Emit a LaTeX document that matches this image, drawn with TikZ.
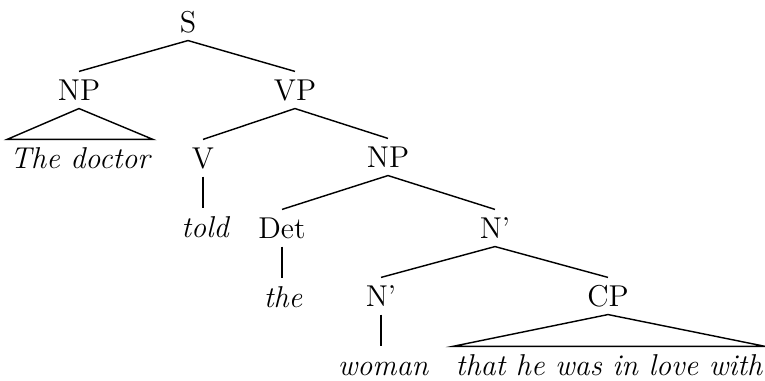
\documentclass[tikz,border=0pt]{standalone}
\begin{document}
\begin{tikzpicture}[x=0.385pt,y=-0.385pt,
  every node/.style={font=\fontsize{11.6}{14}\selectfont},
  lab/.style={inner xsep=1pt,inner ysep=3pt,text height=7.9pt,text depth=0pt},
  leaf/.style={lab,font=\fontsize{11.6}{14}\selectfont\itshape},
  br/.style={line width=0.55pt}]
\useasboundingbox (0,0) rectangle (765,381);
\node[lab] (S) at (188,22) {S};
\node[lab] (NPa) at (79,90) {NP};
\node[lab] (VP) at (295,90) {VP};
\node[leaf] (doc) at (80,158) {The doctor};
\node[lab] (V) at (203,158) {V};
\node[lab] (NPb) at (388,157) {NP};
\node[leaf] (told) at (205,227) {told};
\node[lab] (Det) at (282,228) {Det};
\node[lab] (Na) at (495,228) {N'};
\node[leaf] (the) at (283,297) {the};
\node[lab] (Nb) at (381,296) {N'};
\node[lab] (CP) at (608,296) {CP};
\node[leaf] (woman) at (383,365) {woman};
\node[leaf] (that) at (609,365) {that he was in love with};
\draw[br] (NPa.north) -- (S.south) -- (VP.north);
\draw[br] (doc.north west) -- (NPa.south) -- (doc.north east) -- cycle;
\draw[br] (V.north) -- (VP.south) -- (NPb.north);
\draw[br] (V.south) -- (V.south |- told.north);
\draw[br] (Det.north) -- (NPb.south) -- (Na.north);
\draw[br] (Det.south) -- (Det.south |- the.north);
\draw[br] (Nb.north) -- (Na.south) -- (CP.north);
\draw[br] (Nb.south) -- (Nb.south |- woman.north);
\draw[br] (that.north west) -- (CP.south) -- (that.north east) -- cycle;
\end{tikzpicture}
\end{document}
